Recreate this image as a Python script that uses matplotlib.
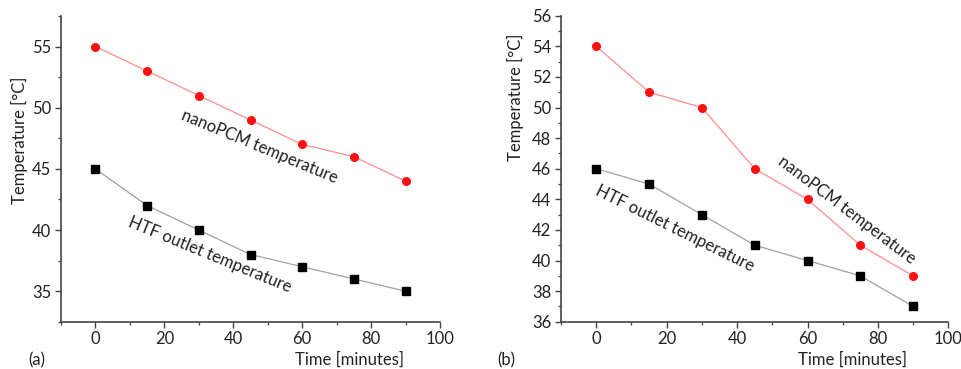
import matplotlib
matplotlib.use('Agg')
import matplotlib.pyplot as plt
from matplotlib.ticker import MultipleLocator

plt.rcParams['font.family'] = ['Lato', 'DejaVu Sans']
FS = 12

# Время измерений, мин
time = [0, 15, 30, 45, 60, 75, 90]

# (a)
nano_a = [55, 53, 51, 49, 47, 46, 44]
htf_a = [45, 42, 40, 38, 37, 36, 35]

# (b)
nano_b = [54, 51, 50, 46, 44, 41, 39]
htf_b = [46, 45, 43, 41, 40, 39, 37]

fig = plt.figure(figsize=(9.62, 3.69), dpi=100)
ax_a = fig.add_axes([0.0634, 0.128, 0.394, 0.8286])
ax_b = fig.add_axes([0.5832, 0.128, 0.4026, 0.8295])


def draw_panel(ax, nano, htf, ylim, ymaj, ymin):
    ax.plot(time, nano, color='#ff8c8c', lw=0.9, marker='o', ms=5.5,
            mfc='#ff1010', mec='#ff1010', zorder=3)
    ax.plot(time, htf, color='#a0a0a0', lw=0.9, marker='s', ms=5.5,
            mfc='black', mec='black', zorder=3)
    ax.set_xlim(-10, 100)
    ax.set_ylim(*ylim)
    ax.xaxis.set_major_locator(MultipleLocator(20))
    ax.xaxis.set_minor_locator(MultipleLocator(10))
    ax.yaxis.set_major_locator(MultipleLocator(ymaj))
    ax.yaxis.set_minor_locator(MultipleLocator(ymin))
    for s in ['top', 'right']:
        ax.spines[s].set_visible(False)
    for s in ['left', 'bottom']:
        ax.spines[s].set_color('#444444')
        ax.spines[s].set_linewidth(1.2)
    ax.tick_params(which='major', direction='out', length=4, width=1.0,
                   color='#444444', labelsize=FS, labelcolor='#222222',
                   pad=3)
    ax.tick_params(which='minor', direction='out', length=2.5, width=0.9,
                   color='#444444')
    ax.patch.set_alpha(0)


draw_panel(ax_a, nano_a, htf_a, (32.5, 57.5), 5, 2.5)
draw_panel(ax_b, nano_b, htf_b, (36, 56), 2, 1)

# Подписи кривых
labels = [
    (ax_a, 47.7, 46.8, 'nanoPCM temperature', -22.5),
    (ax_a, 33.1, 38.0, 'HTF outlet temperature', -22.3),
    (ax_b, 71.2, 43.3, 'nanoPCM temperature', -37),
    (ax_b, 22.4, 42.1, 'HTF outlet temperature', -26.3),
]
for ax, x, y, txt, rot in labels:
    ax.text(x, y, txt, rotation=rot, rotation_mode='anchor', ha='center',
            va='center', fontsize=FS, color='#222222')

# Оси и метки панелей
fig.text(19 / 962, 1 - 140 / 369, 'Temperature [°C]', rotation=90,
         ha='center', va='center', fontsize=FS, color='#222222')
fig.text(515 / 962, 1 - 97 / 369, 'Temperature [°C]', rotation=90,
         ha='center', va='center', fontsize=FS, color='#222222')
fig.text(404 / 962, 1 - 360 / 369, 'Time [minutes]', ha='right',
         va='center', fontsize=FS, color='#222222')
fig.text(907 / 962, 1 - 360 / 369, 'Time [minutes]', ha='right',
         va='center', fontsize=FS, color='#222222')
fig.text(37 / 962, 1 - 360 / 369, '(a)', ha='center', va='center',
         fontsize=FS, color='#222222')
fig.text(506 / 962, 1 - 360 / 369, '(b)', ha='center', va='center',
         fontsize=FS, color='#222222')

plt.savefig('out.png', dpi=100)
